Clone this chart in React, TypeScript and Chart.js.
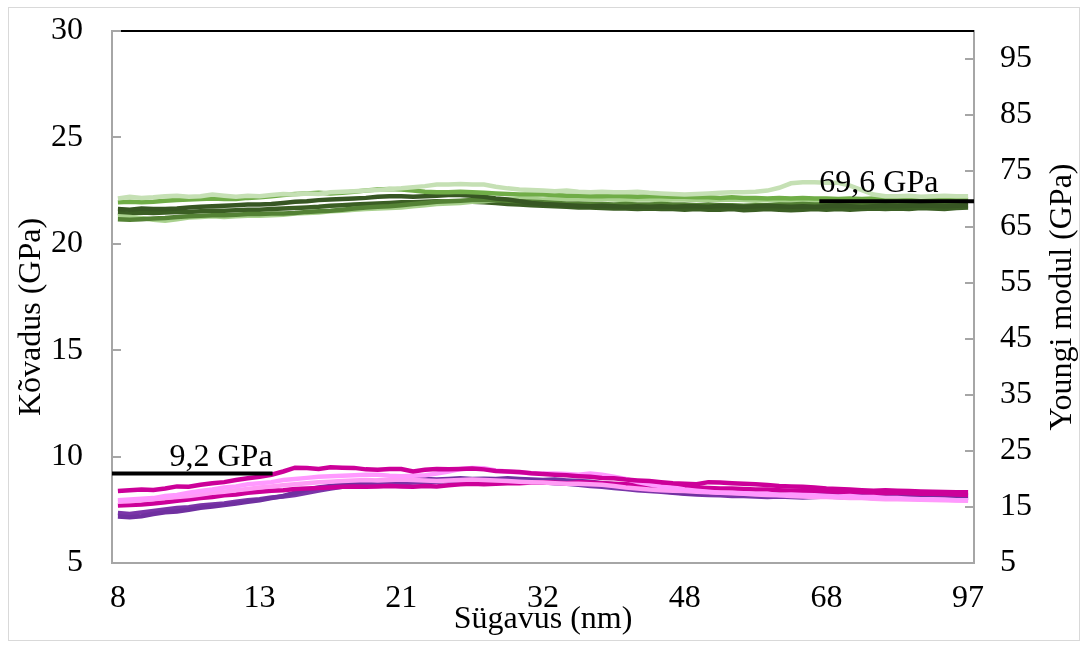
import React, { useEffect, useRef } from 'react';
import { Chart, registerables } from 'chart.js';

Chart.register(...registerables);

// Depth categories (nm)
const DEPTHS = [
  8.0, 8.4, 8.8, 9.2, 9.6, 10.0, 10.4, 10.8, 11.2, 11.6, 12.0, 12.5,
  13.0, 13.7, 14.3, 15.0, 15.7, 16.3, 17.0, 17.7, 18.3, 19.0, 19.7, 20.3,
  21.0, 21.9, 22.8, 23.8, 24.7, 25.6, 26.5, 27.4, 28.3, 29.3, 30.2, 31.1,
  32.0, 33.3, 34.7, 36.0, 37.3, 38.7, 40.0, 41.3, 42.7, 44.0, 45.3, 46.7,
  48.0, 49.7, 51.3, 53.0, 54.7, 56.3, 58.0, 59.7, 61.3, 63.0, 64.7, 66.3,
  68.0, 70.4, 72.8, 75.3, 77.7, 80.1, 82.5, 84.9, 87.3, 89.8, 92.2, 94.6, 97.0,
];
const X_LABEL_EVERY = 12;

// Hardness series (left axis, GPa)
const HARDNESS_1 = [
  8.38, 8.42, 8.45, 8.43, 8.5, 8.6, 8.58, 8.68, 8.75, 8.8, 8.9, 8.98,
  9.05, 9.15, 9.3, 9.48, 9.46, 9.42, 9.5, 9.48, 9.47, 9.4, 9.38, 9.42,
  9.42, 9.3, 9.38, 9.42, 9.4, 9.42, 9.44, 9.4, 9.32, 9.3, 9.28, 9.22,
  9.18, 9.15, 9.12, 9.08, 9.05, 9.0, 8.98, 8.92, 8.88, 8.85, 8.8, 8.75,
  8.72, 8.7, 8.8, 8.78, 8.75, 8.72, 8.7, 8.66, 8.62, 8.6, 8.58, 8.55,
  8.5, 8.48, 8.45, 8.42, 8.4, 8.42, 8.4, 8.38, 8.36, 8.35, 8.34, 8.33, 8.32,
];
const HARDNESS_2 = [
  7.95, 7.98, 8.02, 8.05, 8.15, 8.2, 8.3, 8.38, 8.45, 8.55, 8.6, 8.7,
  8.75, 8.8, 8.9, 8.95, 9.0, 9.05, 9.08, 9.1, 9.12, 9.15, 9.15, 9.1,
  9.08, 9.1, 9.12, 9.2, 9.3, 9.42, 9.46, 9.45, 9.35, 9.3, 9.25, 9.22,
  9.2, 9.2, 9.18, 9.15, 9.2, 9.15, 9.05, 8.95, 8.8, 8.7, 8.6, 8.55,
  8.45, 8.4, 8.35, 8.3, 8.3, 8.28, 8.25, 8.25, 8.2, 8.22, 8.2, 8.18,
  8.15, 8.12, 8.15, 8.1, 8.1, 8.05, 8.05, 8.02, 8.0, 8.0, 7.98, 7.95, 7.95,
];
const HARDNESS_3 = [
  7.7, 7.72, 7.75, 7.8, 7.85, 7.92, 7.98, 8.05, 8.1, 8.18, 8.22, 8.3,
  8.35, 8.4, 8.42, 8.48, 8.5, 8.52, 8.55, 8.58, 8.6, 8.58, 8.6, 8.62,
  8.6, 8.58, 8.62, 8.6, 8.65, 8.7, 8.72, 8.7, 8.72, 8.75, 8.75, 8.78,
  8.8, 8.78, 8.75, 8.8, 8.78, 8.75, 8.72, 8.7, 8.68, 8.65, 8.62, 8.6,
  8.58, 8.55, 8.52, 8.5, 8.5, 8.48, 8.45, 8.45, 8.42, 8.4, 8.4, 8.38,
  8.36, 8.35, 8.35, 8.32, 8.3, 8.28, 8.3, 8.28, 8.26, 8.25, 8.24, 8.22, 8.2,
];
const HARDNESS_4 = [
  7.18, 7.15, 7.2, 7.3, 7.38, 7.42, 7.5, 7.6, 7.65, 7.72, 7.8, 7.88,
  7.95, 8.05, 8.15, 8.3, 8.45, 8.55, 8.62, 8.7, 8.75, 8.82, 8.85, 8.88,
  8.9, 8.92, 8.95, 8.92, 8.95, 8.98, 8.95, 8.96, 8.95, 8.98, 8.95, 8.92,
  8.9, 8.92, 8.88, 8.85, 8.82, 8.75, 8.7, 8.62, 8.55, 8.45, 8.38, 8.32,
  8.28, 8.25, 8.3, 8.28, 8.25, 8.22, 8.2, 8.22, 8.2, 8.2, 8.18, 8.2,
  8.18, 8.2, 8.2, 8.18, 8.16, 8.15, 8.15, 8.14, 8.15, 8.14, 8.15, 8.15, 8.14,
];
const HARDNESS_5 = [
  7.35, 7.3, 7.38, 7.45, 7.52, 7.58, 7.62, 7.7, 7.75, 7.8, 7.88, 7.95,
  8.0, 8.08, 8.12, 8.2, 8.3, 8.4, 8.5, 8.58, 8.62, 8.65, 8.7, 8.72,
  8.75, 8.78, 8.8, 8.82, 8.85, 8.88, 8.9, 8.92, 8.9, 8.88, 8.85, 8.82,
  8.8, 8.75, 8.72, 8.68, 8.62, 8.58, 8.52, 8.48, 8.42, 8.38, 8.35, 8.3,
  8.25, 8.22, 8.2, 8.18, 8.15, 8.15, 8.12, 8.1, 8.12, 8.1, 8.08, 8.1,
  8.12, 8.1, 8.08, 8.08, 8.06, 8.05, 8.05, 8.05, 8.06, 8.05, 8.04, 8.05, 8.05,
];
const HARDNESS_6 = [
  7.88, 7.9, 7.95, 8.0, 8.05, 8.1, 8.15, 8.22, 8.3, 8.35, 8.42, 8.48,
  8.55, 8.6, 8.65, 8.7, 8.75, 8.8, 8.82, 8.85, 8.88, 8.9, 8.88, 8.9,
  8.92, 8.9, 8.88, 8.85, 8.88, 8.9, 8.92, 8.9, 8.88, 8.85, 8.82, 8.8,
  8.78, 8.75, 8.72, 8.72, 8.7, 8.68, 8.62, 8.55, 8.5, 8.45, 8.42, 8.4,
  8.38, 8.35, 8.32, 8.3, 8.28, 8.25, 8.22, 8.2, 8.18, 8.15, 8.12, 8.1,
  8.1, 8.08, 8.05, 8.05, 8.02, 8.0, 8.0, 7.98, 7.97, 7.96, 7.95, 7.94, 7.92,
];

// Young's modulus series (right axis, GPa)
const MODULUS_1 = [
  70.1, 70.4, 70.2, 70.3, 70.5, 70.6, 70.4, 70.5, 70.8, 70.6, 70.4, 70.6,
  70.5, 70.7, 70.9, 70.8, 71.0, 70.9, 71.2, 71.3, 71.4, 71.5, 71.6, 71.8,
  71.9, 72.1, 72.3, 72.6, 72.6, 72.7, 72.6, 72.6, 72.2, 71.9, 71.7, 71.6,
  71.5, 71.4, 71.5, 71.3, 71.2, 71.3, 71.2, 71.2, 71.3, 71.1, 71.0, 70.9,
  70.8, 70.9, 71.0, 71.1, 71.2, 71.2, 71.3, 71.5, 72.0, 72.8, 73.0, 73.0,
  72.9, 72.9, 72.4, 71.6, 70.8, 70.5, 70.5, 70.6, 70.4, 70.5, 70.6, 70.5, 70.5,
];
const MODULUS_2 = [
  69.4, 69.5, 69.4, 69.5, 69.7, 69.8, 69.9, 70.0, 70.1, 70.0, 70.0, 70.2,
  70.3, 70.5, 70.7, 70.9, 71.0, 71.1, 71.0, 71.1, 71.3, 71.5, 71.7, 71.8,
  71.7, 71.5, 71.3, 71.2, 71.2, 71.3, 71.2, 71.1, 71.0, 70.9, 70.8, 70.8,
  70.8, 70.7, 70.6, 70.6, 70.5, 70.5, 70.6, 70.5, 70.4, 70.5, 70.5, 70.4,
  70.4, 70.3, 70.3, 70.2, 70.3, 70.2, 70.2, 70.1, 70.2, 70.1, 70.2, 70.1,
  70.1, 70.0, 70.1, 70.0, 70.1, 70.0, 70.1, 70.0, 70.0, 70.1, 70.0, 70.0, 70.0,
];
const MODULUS_3 = [
  68.2, 68.1, 68.3, 68.2, 68.2, 68.3, 68.5, 68.6, 68.7, 68.8, 68.9, 69.0,
  69.0, 69.1, 69.3, 69.5, 69.6, 69.8, 69.9, 70.0, 70.1, 70.2, 70.4, 70.5,
  70.5, 70.4, 70.5, 70.6, 70.7, 70.7, 70.6, 70.4, 70.1, 69.9, 69.6, 69.3,
  69.1, 69.0, 68.9, 68.8, 68.7, 68.8, 68.7, 68.6, 68.7, 68.6, 68.7, 68.6,
  68.7, 68.7, 68.6, 68.8, 68.7, 68.6, 68.7, 68.8, 68.7, 68.6, 68.7, 68.6,
  68.7, 68.8, 68.7, 68.6, 68.7, 68.8, 68.7, 68.8, 68.9, 68.8, 68.7, 68.8, 68.9,
];
const MODULUS_4 = [
  66.4, 66.3, 66.4, 66.5, 66.6, 66.8, 66.9, 67.0, 67.1, 67.1, 67.2, 67.3,
  67.3, 67.4, 67.4, 67.5, 67.7, 67.8, 67.9, 68.1, 68.3, 68.5, 68.6, 68.7,
  68.9, 69.1, 69.3, 69.5, 69.6, 69.7, 69.8, 69.8, 69.8, 69.7, 69.6, 69.5,
  69.4, 69.3, 69.2, 69.2, 69.1, 69.1, 69.0, 69.1, 69.0, 69.0, 69.1, 69.0,
  69.0, 68.9, 69.0, 68.9, 68.9, 68.8, 68.9, 68.9, 69.0, 69.0, 69.1, 69.0,
  69.0, 69.1, 69.0, 69.2, 69.1, 69.1, 69.2, 69.1, 69.2, 69.2, 69.1, 69.2, 69.3,
];
const MODULUS_5 = [
  66.9, 66.8, 66.6, 66.3, 66.1, 66.4, 66.7, 66.8, 66.9, 66.8, 66.9, 67.0,
  67.0, 67.1, 67.2, 67.4, 67.5, 67.6, 67.8, 67.9, 68.1, 68.2, 68.3, 68.4,
  68.5, 68.7, 68.9, 69.1, 69.2, 69.3, 69.5, 69.6, 69.8, 69.9, 70.0, 70.0,
  69.9, 70.0, 70.1, 70.0, 69.9, 70.0, 69.9, 69.8, 69.9, 69.9, 69.8, 69.9,
  69.9, 69.8, 69.9, 69.8, 69.9, 69.8, 69.7, 69.8, 69.7, 69.8, 69.7, 69.6,
  69.6, 69.7, 69.6, 69.5, 69.6, 69.7, 69.6, 69.5, 69.6, 69.7, 69.6, 69.7, 69.7,
];
const MODULUS_6 = [
  67.5, 67.4, 67.6, 67.5, 67.6, 67.7, 67.7, 67.8, 67.9, 67.9, 68.0, 68.1,
  68.1, 68.2, 68.3, 68.4, 68.5, 68.6, 68.8, 68.9, 69.0, 69.1, 69.2, 69.3,
  69.4, 69.4, 69.5, 69.6, 69.5, 69.6, 69.5, 69.4, 69.3, 69.1, 69.0, 68.9,
  68.8, 68.7, 68.6, 68.5, 68.5, 68.4, 68.3, 68.3, 68.2, 68.3, 68.2, 68.2,
  68.1, 68.2, 68.1, 68.1, 68.2, 68.0, 68.1, 68.2, 68.1, 68.0, 68.1, 68.2,
  68.1, 68.2, 68.1, 68.2, 68.3, 68.2, 68.3, 68.2, 68.4, 68.3, 68.2, 68.4, 68.5,
];

// Axis ticks
const LEFT_TICKS = [5, 10, 15, 20, 25, 30];
const RIGHT_TICKS = [5, 15, 25, 35, 45, 55, 65, 75, 85, 95];

// Reference values
const HARDNESS_REF = 9.2;
const HARDNESS_REF_LABEL = '9,2 GPa';
const HARDNESS_REF_END_INDEX = 13.1;
const MODULUS_REF = 69.6;
const MODULUS_REF_LABEL = '69,6 GPa';
const MODULUS_REF_START_INDEX = 59.4;

const X_TITLE = 'Sügavus (nm)';
const Y_TITLE = 'Kõvadus (GPa)';
const Y1_TITLE = 'Youngi modul (GPa)';

const FONT_FAMILY = "'Liberation Serif', 'Times New Roman', serif";
const FONT_SIZE = 32;
const AXIS_GRAY = '#a6a6a6';

const overlayPlugin = {
  id: 'overlay',
  afterDraw(chart: any) {
    const { ctx, chartArea: a, scales } = chart;
    const x = scales.x;
    const y = scales.y;
    const y1 = scales.y1;
    ctx.save();

    // top line
    ctx.strokeStyle = '#000';
    ctx.lineWidth = 2;
    const ty = Math.round(y.getPixelForValue(30));
    ctx.beginPath();
    ctx.moveTo(a.left, ty);
    ctx.lineTo(a.right, ty);
    ctx.stroke();

    // inside tick marks
    ctx.strokeStyle = AXIS_GRAY;
    ctx.lineWidth = 2;
    LEFT_TICKS.forEach((v) => {
      const py = Math.round(y.getPixelForValue(v));
      ctx.beginPath();
      ctx.moveTo(a.left, py);
      ctx.lineTo(a.left + 9, py);
      ctx.stroke();
    });
    RIGHT_TICKS.forEach((v) => {
      const py = Math.round(y1.getPixelForValue(v));
      ctx.beginPath();
      ctx.moveTo(a.right - 9, py);
      ctx.lineTo(a.right, py);
      ctx.stroke();
    });

    // reference lines
    ctx.strokeStyle = '#000';
    ctx.lineWidth = 4;
    const hy = y.getPixelForValue(HARDNESS_REF);
    const hx = x.getPixelForValue(HARDNESS_REF_END_INDEX);
    ctx.beginPath();
    ctx.moveTo(a.left, hy);
    ctx.lineTo(hx, hy);
    ctx.stroke();
    const my = y1.getPixelForValue(MODULUS_REF);
    const mx = x.getPixelForValue(MODULUS_REF_START_INDEX);
    ctx.beginPath();
    ctx.moveTo(mx, my);
    ctx.lineTo(a.right, my);
    ctx.stroke();

    ctx.fillStyle = '#000';
    ctx.font = `${FONT_SIZE}px ${FONT_FAMILY}`;
    ctx.textBaseline = 'alphabetic';
    ctx.textAlign = 'right';
    ctx.fillText(HARDNESS_REF_LABEL, hx, hy - 8);
    ctx.textAlign = 'left';
    ctx.fillText(MODULUS_REF_LABEL, mx, my - 9);

    // axis titles
    const midY = (a.top + a.bottom) / 2;
    ctx.textAlign = 'center';
    ctx.textBaseline = 'middle';
    ctx.save();
    ctx.translate(23, midY + 20);
    ctx.rotate(-Math.PI / 2);
    ctx.fillText(Y_TITLE, 0, 0);
    ctx.restore();
    ctx.save();
    ctx.translate(1054, midY);
    ctx.rotate(-Math.PI / 2);
    ctx.fillText(Y1_TITLE, 0, 0);
    ctx.restore();
    ctx.textBaseline = 'alphabetic';
    ctx.fillText(X_TITLE, (a.left + a.right) / 2, 620);

    ctx.restore();
  },
};

function lineDs(label: string, data: number[], color: string, axis: string) {
  return {
    label,
    data,
    borderColor: color,
    backgroundColor: color,
    borderWidth: 4.5,
    pointRadius: 0,
    tension: 0,
    fill: false,
    yAxisID: axis,
  };
}

export default function App() {
  const ref = useRef<HTMLCanvasElement | null>(null);
  useEffect(() => {
    if (!ref.current) return;
    const font = { family: FONT_FAMILY, size: FONT_SIZE };
    const chart = new Chart(ref.current, {
      type: 'line',
      data: {
        labels: DEPTHS.map((d) => String(d)),
        datasets: [
          lineDs('H1', HARDNESS_1, '#cc0099', 'y'),
          lineDs('H2', HARDNESS_2, '#ff99ff', 'y'),
          lineDs('H6', HARDNESS_6, '#ff9cf5', 'y'),
          lineDs('H3', HARDNESS_3, '#cc0099', 'y'),
          lineDs('H4', HARDNESS_4, '#7030a0', 'y'),
          lineDs('H5', HARDNESS_5, '#7a35a8', 'y'),
          lineDs('M1', MODULUS_1, '#c5e0b4', 'y1'),
          lineDs('M2', MODULUS_2, '#70ad47', 'y1'),
          lineDs('M3', MODULUS_3, '#375623', 'y1'),
          lineDs('M4', MODULUS_4, '#548235', 'y1'),
          lineDs('M5', MODULUS_5, '#a9d18e', 'y1'),
          lineDs('M6', MODULUS_6, '#3b5e24', 'y1'),
        ],
      },
      options: {
        animation: false,
        responsive: true,
        maintainAspectRatio: false,
        layout: { padding: { top: 23, left: 0, right: 0, bottom: 0 } },
        plugins: { legend: { display: false }, tooltip: { enabled: false } },
        scales: {
          x: {
            type: 'category',
            offset: true,
            grid: { display: false, drawTicks: false },
            border: { display: true, color: AXIS_GRAY, width: 2 },
            ticks: {
              autoSkip: false,
              maxRotation: 0,
              minRotation: 0,
              padding: 16,
              color: '#000',
              font,
              callback: (_v: any, i: number) =>
                i % X_LABEL_EVERY === 0 ? String(Math.round(DEPTHS[i])) : null,
            },
            afterFit: (s: any) => {
              s.height = 77;
              s.paddingLeft = 0;
              s.paddingRight = 0;
            },
          },
          y: {
            position: 'left',
            min: 5,
            max: 30,
            afterBuildTicks: (s: any) => {
              s.ticks = LEFT_TICKS.map((v) => ({ value: v }));
            },
            grid: { display: false, drawTicks: false },
            border: { display: true, color: AXIS_GRAY, width: 2 },
            ticks: { padding: 29, color: '#000', font },
            afterFit: (s: any) => {
              s.width = 103;
              s.paddingTop = 0;
              s.paddingBottom = 0;
            },
          },
          y1: {
            position: 'right',
            min: 5,
            max: 100,
            afterBuildTicks: (s: any) => {
              s.ticks = RIGHT_TICKS.map((v) => ({ value: v }));
            },
            grid: { display: false, drawTicks: false },
            border: { display: true, color: AXIS_GRAY, width: 2 },
            ticks: { padding: 26, color: '#000', font },
            afterFit: (s: any) => {
              s.width = 105;
              s.paddingTop = 0;
              s.paddingBottom = 0;
            },
          },
        },
      } as any,
      plugins: [overlayPlugin],
    });
    return () => chart.destroy();
  }, []);

  return (
    <div
      style={{
        position: 'absolute',
        left: 8,
        top: 7,
        width: 1072,
        height: 634,
        border: '1px solid #d9d9d9',
        boxSizing: 'border-box',
        background: '#fff',
      }}
    >
      <div style={{ position: 'relative', width: '100%', height: '100%' }}>
        <canvas ref={ref} />
      </div>
    </div>
  );
}
